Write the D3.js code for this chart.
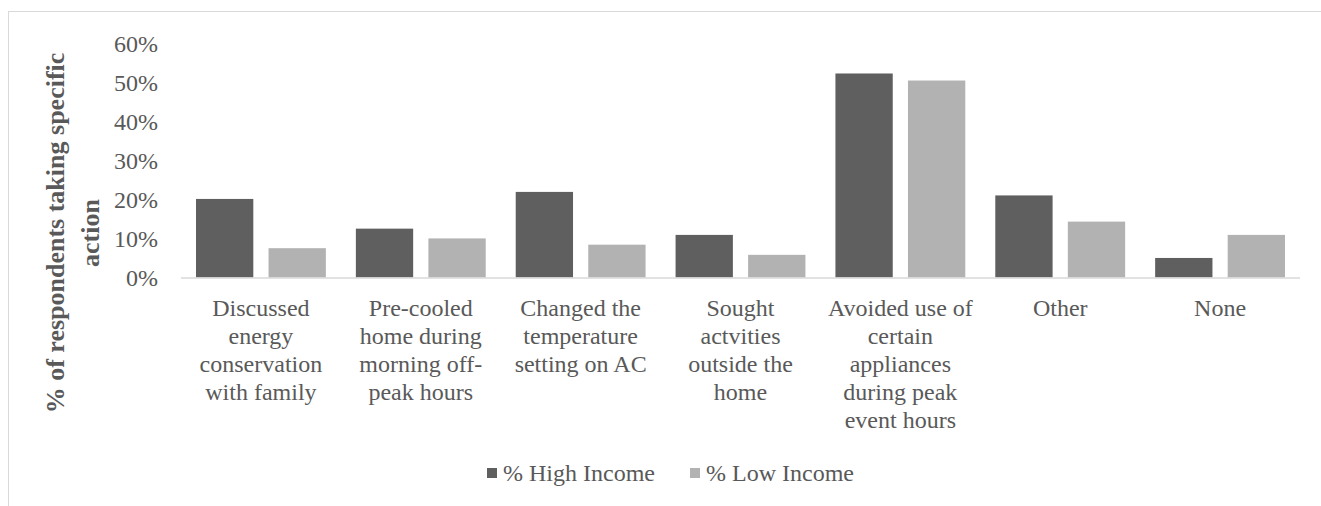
<!DOCTYPE html>
<html><head><meta charset="utf-8">
<script src="https://cdn.jsdelivr.net/npm/d3@7"></script>
<style>
html,body{margin:0;padding:0;background:#fff;}
svg{display:block;}
text{font-family:"Liberation Serif","Times New Roman",serif;fill:#595959;}
</style></head><body>
<svg id="c" width="1321" height="506"></svg>
<script>
const categories = ["Discussed energy conservation with family","Pre-cooled home during morning off-peak hours","Changed the temperature setting on AC","Sought actvities outside the home","Avoided use of certain appliances during peak event hours","Other","None"];
const categoryLines = [
  ["Discussed","energy","conservation","with family"],
  ["Pre-cooled","home during","morning off-","peak hours"],
  ["Changed the","temperature","setting on AC"],
  ["Sought","actvities","outside the","home"],
  ["Avoided use of","certain","appliances","during peak","event hours"],
  ["Other"],
  ["None"]
];
const seriesNames = ["% High Income","% Low Income"];
const highIncome = [0.201,0.125,0.219,0.109,0.522,0.210,0.050];
const lowIncome  = [0.075,0.100,0.084,0.058,0.504,0.143,0.109];
const yTicks = [0,0.1,0.2,0.3,0.4,0.5,0.6];
const yTitleLines = ["% of respondents taking specific","action"];
const colors = ["#5f5f5f","#b2b2b2"];

const svg = d3.select("#c");
// chart border
svg.append("rect").attr("x",8.5).attr("y",11.5).attr("width",1330).attr("height",520)
  .attr("fill","none").attr("stroke","#d9d9d9").attr("stroke-width",1);

const x0 = d3.scaleBand().domain(categories).range([181,1300]);
const x1 = d3.scaleBand().domain(seriesNames).range([15, x0.bandwidth()-15]).paddingInner(0.21);
const y = d3.scaleLinear().domain([0,0.6]).range([277.5,43]);

// y tick labels
const yAxis = d3.axisLeft(y).tickValues(yTicks).tickFormat(d3.format(".0%")).tickSize(0).tickPadding(0);
const ga = svg.append("g").attr("transform","translate(158,0)").call(yAxis);
ga.select(".domain").remove();
ga.selectAll("text").attr("font-family","Liberation Serif").attr("font-size",24).attr("fill","#595959").attr("dy","0.34em");

// bars
const data = categories.map((c,i)=>({c, vals:[highIncome[i], lowIncome[i]]}));
const g = svg.append("g");
data.forEach(d=>{
  d.vals.forEach((v,j)=>{
    g.append("rect")
      .attr("x", x0(d.c)+x1(seriesNames[j]))
      .attr("y", y(v))
      .attr("width", x1.bandwidth())
      .attr("height", y(0)-y(v))
      .attr("fill", colors[j]);
  });
});

// x axis line
svg.append("line").attr("x1",181).attr("x2",1300).attr("y1",y(0)+0.5).attr("y2",y(0)+0.5)
  .attr("stroke","#d9d9d9").attr("stroke-width",1.5);

// category labels
categories.forEach((c,i)=>{
  const t = svg.append("text").attr("text-anchor","middle").attr("font-size",24)
    .attr("x", x0(c)+x0.bandwidth()/2).attr("y",316);
  categoryLines[i].forEach((l,k)=>{
    t.append("tspan").attr("x", x0(c)+x0.bandwidth()/2).attr("y",316+k*28).text(l);
  });
});

// y title
const yt = svg.append("text").attr("text-anchor","middle").attr("font-weight","bold").attr("font-size",26)
  .attr("transform","translate(0,233) rotate(-90)");
yTitleLines.forEach((l,k)=>{
  yt.append("tspan").attr("x",0).attr("y",64+k*35).text(l);
});

// legend
const legX = [487,690];
seriesNames.forEach((s,j)=>{
  svg.append("rect").attr("x",legX[j]).attr("y",468).attr("width",10).attr("height",10).attr("fill",colors[j]);
  svg.append("text").attr("x",legX[j]+16).attr("y",481).attr("font-size",24).text(s);
});
</script>
</body></html>
